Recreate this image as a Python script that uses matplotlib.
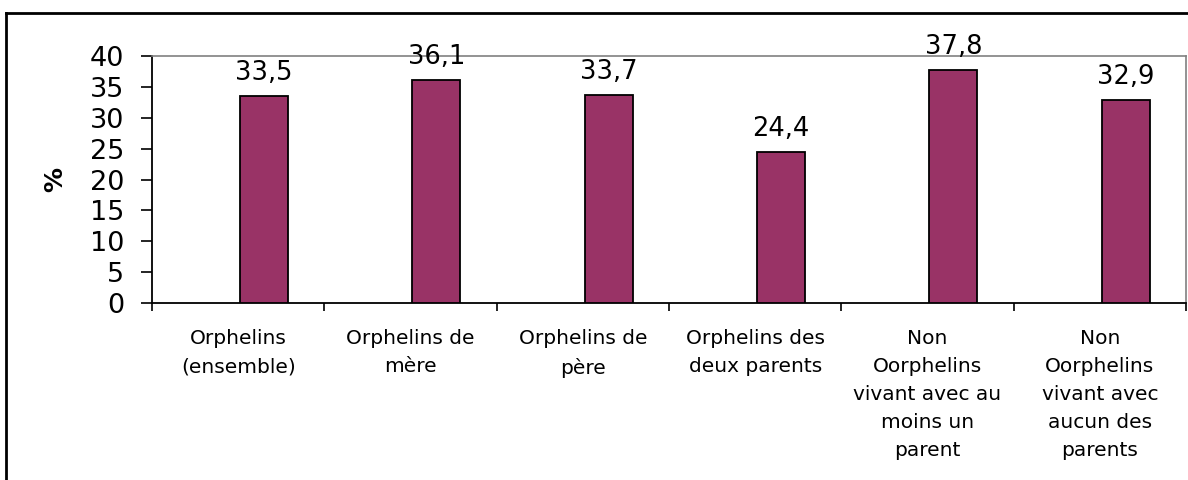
import matplotlib
matplotlib.use("Agg")
import matplotlib.pyplot as plt
from matplotlib.lines import Line2D
import numpy as np

plt.rcParams['font.family'] = ['DejaVu Sans']

categories = ["Orphelins\n(ensemble)",
              "Orphelins de\nmère",
              "Orphelins de\npère",
              "Orphelins des\ndeux parents",
              "Non\nOorphelins\nvivant avec au\nmoins un\nparent",
              "Non\nOorphelins\nvivant avec\naucun des\nparents"]
values = [33.5, 36.1, 33.7, 24.4, 37.8, 32.9]
labels = ["33,5", "36,1", "33,7", "24,4", "37,8", "32,9"]
yticks = [0, 5, 10, 15, 20, 25, 30, 35, 40]

fig = plt.figure(figsize=(11.88, 4.8), dpi=100)
ax = fig.add_axes([152/1188, 1-303/480, (1186-152)/1188, (303-56)/480])

x = np.arange(len(values))
ax.bar(x + 0.01, values, width=0.28, align='edge', color='#993366',
       edgecolor='black', linewidth=1.3, zorder=3)
for xi, v, lab in zip(x, values, labels):
    ax.annotate(lab, (xi + 0.15, v), xytext=(0, 11.5), textcoords='offset points',
                ha='center', va='baseline', fontsize=18.5, zorder=4)

ax.set_xlim(-0.5, len(values) - 0.5)
ax.set_ylim(0, 40)
ax.set_yticks(yticks)
ax.set_yticklabels([str(t) for t in yticks], fontsize=19.5)
ax.tick_params(axis='y', length=8, width=1.2, pad=12, direction='out')

ax.set_xticks(x)
ax.set_xticklabels(categories, fontsize=14.5, linespacing=1.6, va='top')
ax.tick_params(axis='x', which='major', length=0, pad=19)
ax.set_xticks(np.arange(-0.5, len(values)), minor=True)
ax.tick_params(axis='x', which='minor', length=6, width=1.2, direction='out')

ax.set_ylabel("%", fontsize=18, fontweight='bold', labelpad=16)

ax.spines['left'].set_linewidth(1.3)
ax.spines['bottom'].set_linewidth(1.3)
ax.spines['top'].set_color('#808080')
ax.spines['right'].set_color('#808080')
ax.spines['top'].set_linewidth(1.2)
ax.spines['right'].set_linewidth(1.2)

# outer frame of the chart (only left and top edges are inside the picture)
fl, ft = 6/1188, 1 - 13/480
fig.add_artist(Line2D([fl, fl], [0, ft], transform=fig.transFigure, color='black', linewidth=2))
fig.add_artist(Line2D([fl, 1], [ft, ft], transform=fig.transFigure, color='black', linewidth=2))

plt.savefig("out.png", dpi=100)
plt.close()
